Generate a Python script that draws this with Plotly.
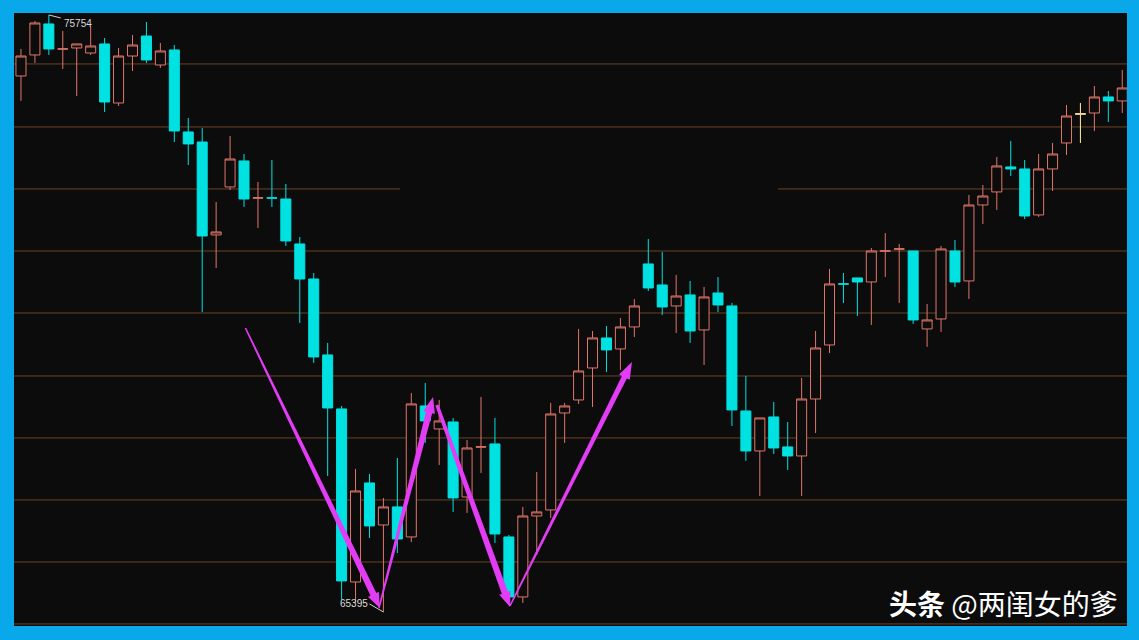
import math
import plotly.graph_objects as go

# ---------------- data ----------------
opens = [74695, 75060, 75598, 75160, 75181, 75094, 75251, 74227, 75042, 75389,
         74886, 75147, 73724, 73550, 71937, 72770, 73221, 72575, 72582, 72561,
         71781, 71173, 69855, 68918, 65916, 67634, 66905, 67218, 66697, 68970,
         68571, 68692, 67391, 68255, 68311, 66697, 65656, 67061, 67166, 68848,
         69074, 69629, 70150, 69959, 70341, 71434, 71069, 70705, 70896, 70289,
         70930, 70705, 68883, 68189, 68779, 68259, 68102, 69091, 70028, 71090,
         71191, 71121, 71655, 71690, 71659, 70306, 70479, 71659, 71139, 72457,
         72683, 73117, 73082, 72284, 73082, 73533, 74033, 74053, 74331, 74262]
highs = [75164, 75650, 75754, 75476, 75251, 75563, 75355, 75181, 75407, 75632,
         75268, 75233, 73967, 73793, 72509, 73654, 73342, 72856, 73238, 72822,
         71902, 71277, 70063, 68970, 67877, 67790, 67374, 68068, 69195, 69369,
         69074, 68762, 68380, 69126, 68762, 66732, 67218, 67825, 69022, 69022,
         70306, 70271, 70358, 70497, 70826, 71867, 71642, 71243, 71139, 71035,
         71208, 70757, 69490, 68762, 69039, 68692, 69456, 70271, 71347, 71277,
         71191, 71711, 71971, 71781, 71659, 70740, 71746, 71850, 72631, 72804,
         73290, 73568, 73238, 73342, 73533, 74192, 74227, 74522, 74435, 74800]
lows = [74262, 74921, 75060, 74817, 74348, 75060, 74071, 74175, 74782, 74921,
        74834, 73550, 73151, 70601, 71364, 72718, 72423, 72058, 72423, 71746,
        70410, 69716, 67755, 65604, 65552, 66680, 65395, 66419, 66610, 68328,
        67946, 67131, 67113, 67807, 66593, 65604, 65552, 66385, 67027, 68328,
        69005, 68953, 69560, 69595, 70167, 70965, 70549, 70236, 70063, 69681,
        70601, 68623, 68016, 67408, 68137, 67860, 67408, 68501, 69889, 70757,
        70531, 70375, 71208, 70757, 70393, 69994, 70254, 71035, 70826, 72128,
        72371, 72960, 72214, 72249, 72700, 73325, 73533, 73741, 73897, 74053]
closes = [75042, 75615, 75164, 75166, 75251, 75216, 74244, 75042, 75233, 74973,
          75129, 73741, 73516, 71919, 71989, 73255, 72561, 72582, 72576, 71833,
          71173, 69820, 68935, 65934, 67495, 66888, 67218, 66662, 69005, 68710,
          68710, 67374, 68241, 68262, 66749, 65656, 67061, 67131, 68831, 68970,
          69577, 70150, 69942, 70341, 70705, 71017, 70688, 70878, 70271, 70861,
          70722, 68901, 68189, 68762, 68241, 68102, 69091, 69976, 71087, 71084,
          71121, 71659, 71661, 71696, 70462, 70462, 71694, 71121, 72457, 72613,
          73134, 73082, 72266, 73082, 73342, 74001, 74039, 74331, 74262, 74487]
bars = list(range(len(opens)))
highlight_bars = [76]                       # the pale-yellow doji

grid_levels = [74904, 73811, 72735, 71659, 70583, 69490, 68415, 67339, 66263, 65188]
gap_level = 72735                           # grid line that is broken in the middle
gap_span = (27.2, 54.3)

# hand-drawn arrows: (x_tail, y_tail, x_tip, y_tip)
arrows = [(16.1, 70323, 25.75, 65465),
          (25.68, 65465, 29.56, 69126),
          (29.84, 68987, 35.08, 65483),
          (35.08, 65500, 43.83, 69733)]
arrow_style = [(1.5, 6.5, 15, 12), (1.5, 6.5, 16, 12), (3.5, 6.5, 15, 12), (1.5, 5.5, 17, 12)]

# ---------------- styling ----------------
BG = "#0c0c0c"
BORDER = "#08a8ea"
UP = "#e0766a"
DOWN = "#00e2e2"
GRID = "#6a4426"
MAG = "#e23cf4"
W, H = 1139, 640
ML, MR, MT, MB = 14, 12, 13, 14
XMIN, XMAX = -0.5, 79.34
YMIN, YMAX = 65152, 75788
PW, PH = W - ML - MR, H - MT - MB
SX = PW / (XMAX - XMIN)
SY = PH / (YMAX - YMIN)


def to_px(x, y):
    return (x - XMIN) * SX, (YMAX - y) * SY


def to_data(px, py):
    return px / SX + XMIN, YMAX - py / SY


def arrow_path(x0, y0, x1, y1, w0, w1, hl, hw):
    X0, Y0 = to_px(x0, y0)
    X1, Y1 = to_px(x1, y1)
    dx, dy = X1 - X0, Y1 - Y0
    L = math.hypot(dx, dy)
    ux, uy = dx / L, dy / L
    nx, ny = -uy, ux
    BX, BY = X1 - ux * hl, Y1 - uy * hl
    pts = [(X0 + nx * w0 / 2, Y0 + ny * w0 / 2),
           (BX + nx * w1 / 2, BY + ny * w1 / 2),
           (BX + nx * hw / 2, BY + ny * hw / 2),
           (X1, Y1),
           (BX - nx * hw / 2, BY - ny * hw / 2),
           (BX - nx * w1 / 2, BY - ny * w1 / 2),
           (X0 - nx * w0 / 2, Y0 - ny * w0 / 2)]
    d = []
    for i, (px, py) in enumerate(pts):
        x, y = to_data(px, py)
        d.append(("M" if i == 0 else "L") + f"{x:.4f},{y:.2f}")
    return " ".join(d) + " Z"


fig = go.Figure()
fig.add_trace(go.Candlestick(
    x=bars, open=opens, high=highs, low=lows, close=closes,
    increasing=dict(line=dict(color=UP, width=1), fillcolor=BG),
    decreasing=dict(line=dict(color=DOWN, width=1), fillcolor=DOWN),
    whiskerwidth=0, hoverinfo="skip"))
fig.add_trace(go.Candlestick(
    x=highlight_bars,
    open=[opens[i] for i in highlight_bars], high=[highs[i] for i in highlight_bars],
    low=[lows[i] for i in highlight_bars], close=[closes[i] for i in highlight_bars],
    increasing=dict(line=dict(color="#efe29a", width=1), fillcolor=BG),
    decreasing=dict(line=dict(color="#efe29a", width=1), fillcolor=BG),
    whiskerwidth=0, hoverinfo="skip"))

shapes = []
for g in grid_levels:
    if g == gap_level:
        segs = [(XMIN, gap_span[0]), (gap_span[1], XMAX)]
    else:
        segs = [(XMIN, XMAX)]
    for a, b in segs:
        shapes.append(dict(type="line", xref="x", yref="y", x0=a, x1=b, y0=g, y1=g,
                           line=dict(color=GRID, width=1), layer="below"))

for (x0, y0, x1, y1), (w0, w1, hl, hw) in zip(arrows, arrow_style):
    shapes.append(dict(type="path", xref="x", yref="y", path=arrow_path(x0, y0, x1, y1, w0, w1, hl, hw),
                       fillcolor=MAG, line=dict(width=0), layer="above"))

# high / low labels
hi_i = highs.index(max(highs))
lo_i = lows.index(min(lows))
shapes.append(dict(type="line", xref="x", yref="y", x0=hi_i, y0=highs[hi_i], x1=hi_i + 0.85,
                   y1=highs[hi_i] - 52, line=dict(color="#d0d0d0", width=1)))
shapes.append(dict(type="line", xref="x", yref="y", x0=lo_i - 1.0, y0=lows[lo_i] + 140, x1=lo_i,
                   y1=lows[lo_i], line=dict(color="#d0d0d0", width=1)))

annotations = [
    dict(x=hi_i + 0.95, y=highs[hi_i] - 150, xref="x", yref="y", text=str(max(highs)),
         showarrow=False, xanchor="left", yanchor="middle",
         font=dict(family="Liberation Sans, Arial", size=10, color="#d8d8d8")),
    dict(x=lo_i - 0.95, y=lows[lo_i] + 140, xref="x", yref="y", text=str(min(lows)),
         showarrow=False, xanchor="right", yanchor="middle",
         font=dict(family="Liberation Sans, Arial", size=10, color="#d8d8d8")),
    dict(x=0.994, y=0.037, xref="paper", yref="paper",
         text="<b>头条</b> @两闺女的爹", showarrow=False, xanchor="right", yanchor="middle",
         font=dict(family="Noto Sans CJK SC", size=28, color="#ffffff")),
]

fig.update_layout(
    width=W, height=H,
    margin=dict(l=ML, r=MR, t=MT, b=MB, pad=0),
    paper_bgcolor=BORDER, plot_bgcolor=BG,
    showlegend=False,
    boxgap=0.28, boxgroupgap=0,
    xaxis=dict(range=[XMIN, XMAX], visible=False, rangeslider=dict(visible=False), fixedrange=True),
    yaxis=dict(range=[YMIN, YMAX], visible=False, fixedrange=True),
    shapes=shapes, annotations=annotations,
)

fig.write_html("out.html", config={"displayModeBar": False},
               post_script="document.body.style.margin='0px';")
